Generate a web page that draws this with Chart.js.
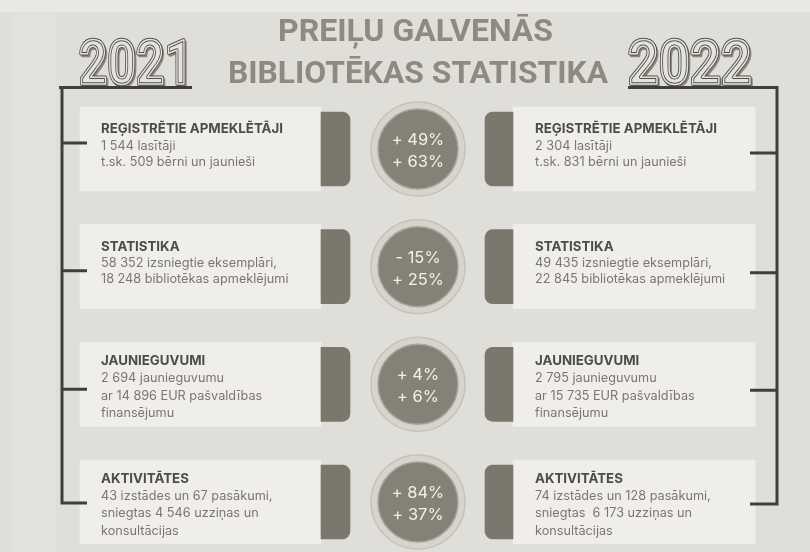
<!DOCTYPE html>
<html>
<head>
<meta charset="utf-8">
<script src="https://cdn.jsdelivr.net/npm/chart.js@4.4.1/dist/chart.umd.min.js"></script>
<style>
html,body{margin:0;padding:0;background:#dfded9;}
canvas{display:block;}
</style>
</head>
<body>
<canvas id="c" width="810" height="552"></canvas>
<script>
// ---------- DATA ----------
const titleLines = ['PREIĻU GALVENĀS', 'BIBLIOTĒKAS STATISTIKA'];
const years = ['2021', '2022'];
const categories = ['REĢISTRĒTIE APMEKLĒTĀJI', 'STATISTIKA', 'JAUNIEGUVUMI', 'AKTIVITĀTES'];
const lines2021 = [
  ['1 544 lasītāji', 't.sk. 509 bērni un jaunieši'],
  ['58 352 izsniegtie eksemplāri,', '18 248 bibliotēkas apmeklējumi'],
  ['2 694 jaunieguvumu', 'ar 14 896 EUR pašvaldības', 'finansējumu'],
  ['43 izstādes un 67 pasākumi,', 'sniegtas 4 546 uzziņas un', 'konsultācijas']
];
const lines2022 = [
  ['2 304 lasītāji', 't.sk. 831 bērni un jaunieši'],
  ['49 435 izsniegtie eksemplāri,', '22 845 bibliotēkas apmeklējumi'],
  ['2 795 jaunieguvumu', 'ar 15 735 EUR pašvaldības', 'finansējumu'],
  ['74 izstādes un 128 pasākumi,', 'sniegtas  6 173 uzziņas un', 'konsultācijas']
];
const changeFirst = ['+ 49%', '- 15%', '+ 4%', '+ 84%'];
const changeSecond = ['+ 63%', '+ 25%', '+ 6%', '+ 37%'];

// ---------- LAYOUT / STYLE ----------
const L = {
  leftPanel: [80, 321], leftTab: [321, 350],
  rightTab: [485, 513], rightPanel: [513, 755],
  circleX: 418,
  panelH: 84, tabH: 74, ringR: 47, innerR: 40,
  leftTextX: 101, rightTextX: 535,
  bracketL: 62, bracketR: 777,
  tickL: [62, 87], tickR: [750, 777],
  tickOffL: [-6, 4, 5, 1], tickOffR: [4, 6, 6, 2],
  topLineY: 87.5
};
const C = {
  bg: '#dfded9', bgTop: '#e9e8e4', panel: '#efeeea', tab: '#7b776d',
  ring: '#d6d4cd', ringBorder: '#c4c2bb', inner: '#868176',
  head: '#8d8a82', title: '#4e4c47', body: '#7a776f', line: '#403e3a', pct: '#f2f0ea'
};

function span(r) { return categories.map(() => [r[0], r[1]]); }

function fitText(ctx, txt, x0, x1, base) {
  const w = ctx.measureText(txt).width;
  const s = (x1 - x0) / w;
  ctx.save();
  ctx.translate(x0, base);
  ctx.scale(s, 1);
  ctx.fillText(txt, 0, 0);
  ctx.restore();
}
function outlineText(ctx, txt, x0, x1, base) {
  const w = ctx.measureText(txt).width;
  const s = (x1 - x0) / w;
  ctx.save();
  ctx.translate(x0, base);
  ctx.scale(s, 1);
  ctx.lineJoin = 'round';
  ctx.strokeStyle = '#8a877f'; ctx.lineWidth = 3;
  ctx.strokeText(txt, 1.5 / s, 1.5);
  ctx.fillStyle = '#e4e3de';
  ctx.fillText(txt, 0, 0);
  ctx.strokeStyle = '#4f4d48'; ctx.lineWidth = 3.6;
  ctx.strokeText(txt, 0, 0);
  ctx.strokeStyle = '#e4e3de'; ctx.lineWidth = 1.6;
  ctx.strokeText(txt, 0, 0);
  ctx.restore();
}

const deco = {
  id: 'deco',
  beforeDraw(chart) {
    const ctx = chart.ctx;
    ctx.save();
    ctx.fillStyle = C.bg; ctx.fillRect(0, 0, chart.width, chart.height);
    ctx.fillStyle = C.bgTop; ctx.fillRect(0, 0, chart.width, 12);
    ctx.fillStyle = 'rgba(255,255,255,0.12)'; ctx.fillRect(12, 12, 44, chart.height - 12);
    // header
    ctx.fillStyle = C.head;
    ctx.textAlign = 'left'; ctx.textBaseline = 'alphabetic';
    ctx.font = 'bold 32px Roboto';
    fitText(ctx, titleLines[0], 278, 553, 41);
    fitText(ctx, titleLines[1], 228, 608, 83);
    ctx.font = 'bold 62px Roboto';
    outlineText(ctx, years[0], 79, 193, 84);
    outlineText(ctx, years[1], 628, 752, 84);
    ctx.restore();
  },
  afterDatasetsDraw(chart) {
    const ctx = chart.ctx, ys = chart.scales.y;
    ctx.save();
    // brackets
    ctx.strokeStyle = C.line; ctx.lineWidth = 3; ctx.lineCap = 'butt';
    const yl = categories.map((c, i) => ys.getPixelForValue(i) + L.tickOffL[i]);
    const yr = categories.map((c, i) => ys.getPixelForValue(i) + L.tickOffR[i]);
    ctx.beginPath();
    ctx.moveTo(59, L.topLineY); ctx.lineTo(192, L.topLineY);
    ctx.moveTo(L.bracketL, L.topLineY - 1.5); ctx.lineTo(L.bracketL, yl[3] + 1.5);
    yl.forEach(y => { ctx.moveTo(L.tickL[0], y); ctx.lineTo(L.tickL[1], y); });
    ctx.moveTo(628, L.topLineY); ctx.lineTo(L.bracketR + 1.5, L.topLineY);
    ctx.moveTo(L.bracketR, L.topLineY - 1.5); ctx.lineTo(L.bracketR, yr[3] + 1.5);
    yr.forEach(y => { ctx.moveTo(L.tickR[0], y); ctx.lineTo(L.tickR[1], y); });
    ctx.stroke();
    // texts
    ctx.textAlign = 'left'; ctx.textBaseline = 'middle';
    categories.forEach((cat, i) => {
      const cy = ys.getPixelForValue(i);
      [[lines2021[i], L.leftTextX], [lines2022[i], L.rightTextX]].forEach(([lines, x]) => {
        const sh = lines.length > 2 ? 3 : 0;
        const step = lines.length > 2 ? 17.5 : 16;
        ctx.fillStyle = C.title; ctx.font = 'bold 13.3px Inter';
        ctx.fillText(cat, x, cy - 20 - sh);
        ctx.fillStyle = C.body; ctx.font = '12.7px Inter';
        lines.forEach((t, k) => ctx.fillText(t, x, cy - 3 - sh + k * step));
      });
      ctx.textAlign = 'center';
      ctx.fillStyle = C.pct; ctx.font = '16.5px Inter';
      ctx.fillText(changeFirst[i], L.circleX, cy - 9);
      ctx.fillText(changeSecond[i], L.circleX, cy + 13);
      ctx.textAlign = 'left';
    });
    ctx.restore();
  }
};

const barBase = { type: 'bar', grouped: false, clip: false, borderSkipped: false, borderWidth: 0 };
new Chart(document.getElementById('c'), {
  type: 'bar',
  data: {
    labels: categories,
    datasets: [
      Object.assign({}, barBase, { label: 'panel2021', data: span(L.leftPanel), backgroundColor: C.panel, barThickness: L.panelH, order: 5 }),
      Object.assign({}, barBase, { label: 'tab2021', data: span(L.leftTab), backgroundColor: C.tab, barThickness: L.tabH, order: 4,
        borderRadius: { topLeft: 0, bottomLeft: 0, topRight: 8, bottomRight: 8 } }),
      Object.assign({}, barBase, { label: 'tab2022', data: span(L.rightTab), backgroundColor: C.tab, barThickness: L.tabH, order: 4,
        borderRadius: { topLeft: 8, bottomLeft: 8, topRight: 0, bottomRight: 0 } }),
      Object.assign({}, barBase, { label: 'panel2022', data: span(L.rightPanel), backgroundColor: C.panel, barThickness: L.panelH, order: 5 }),
      { type: 'scatter', label: 'ring', clip: false, order: 2,
        data: categories.map(c => ({ x: L.circleX, y: c })),
        pointRadius: L.ringR, pointHoverRadius: L.ringR, backgroundColor: C.ring, borderColor: C.ringBorder, borderWidth: 1.5 },
      { type: 'scatter', label: 'change', clip: false, order: 1,
        data: categories.map(c => ({ x: L.circleX, y: c })),
        pointRadius: L.innerR, pointHoverRadius: L.innerR, backgroundColor: C.inner, borderColor: '#a7a49b', borderWidth: 1.5 }
    ]
  },
  options: {
    indexAxis: 'y',
    responsive: false,
    animation: false,
    devicePixelRatio: 1,
    events: [],
    layout: { autoPadding: false, padding: { top: 149, bottom: 50, left: 0, right: 0 } },
    scales: {
      x: { type: 'linear', min: 0, max: 810, display: false },
      y: { type: 'category', labels: categories, offset: false, display: false }
    },
    plugins: { legend: { display: false }, tooltip: { enabled: false } }
  },
  plugins: [deco]
});
</script>
</body>
</html>
